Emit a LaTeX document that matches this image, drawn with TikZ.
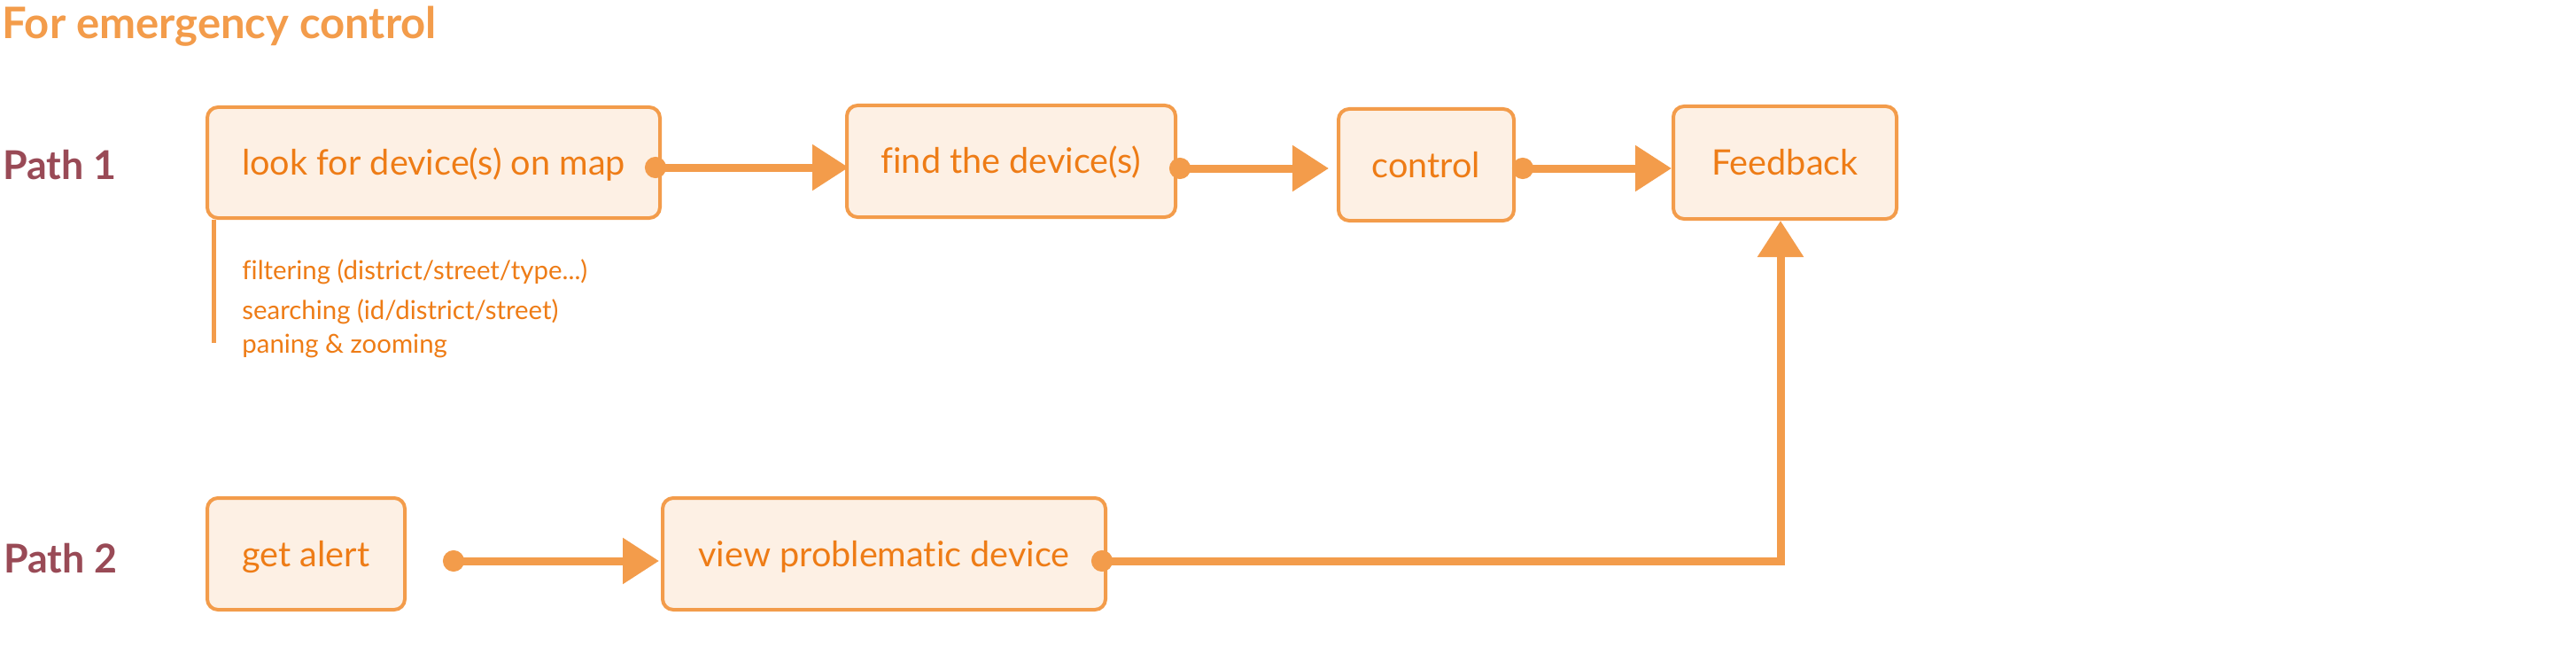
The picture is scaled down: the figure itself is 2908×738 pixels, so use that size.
\documentclass[tikz,border=0pt]{standalone}
\usepackage{fontspec}
\setmainfont{Lato}[Ligatures=NoCommon]
\usetikzlibrary{arrows.meta,calc}
\definecolor{lineor}{RGB}{243,156,75}
\definecolor{textor}{RGB}{238,124,22}
\definecolor{boxfill}{RGB}{253,240,228}
\definecolor{pathcol}{RGB}{153,74,86}
\tikzset{
  box/.style={draw=lineor, line width=2pt, fill=boxfill, rounded corners=6pt,
    inner sep=0pt, text=textor, font=\fontsize{19.8}{23}\selectfont,
    text height=14pt, text depth=0pt},
  conn/.style={draw=lineor, line width=4.5pt, line join=miter,
    {Circle[length=12pt]}-{Triangle[length=20.5pt,width=25pt]}},
  subline/.style={draw=lineor, line width=2.5pt},
  subtext/.style={anchor=base west, inner sep=0pt, text=textor, font=\fontsize{14.7}{17}\selectfont},
  pathlabel/.style={anchor=base west, inner sep=0pt, text=pathcol, font=\bfseries\fontsize{22.4}{26}\selectfont},
  titletext/.style={anchor=base west, inner sep=0pt, text=lineor, font=\bfseries\fontsize{24.5}{28}\selectfont}
}
\begin{document}
\begin{tikzpicture}[x=0.5pt,y=-0.5pt]
\useasboundingbox (0,0) rectangle (2908,738);
\fill[white] (0,0) rectangle (2908,738);

\node[titletext] (title) at (2,44) {For emergency control};
\node[pathlabel] (p1) at (3,202) {Path 1};
\node[pathlabel] (p2) at (4,646) {Path 2};

\node[box, minimum width=255.5pt, minimum height=62.5pt] (b1) at (489.5,183.5) {look for device(s) on map};
\node[box, minimum width=185.5pt, minimum height=63pt] (b2) at (1141.5,182) {find the device(s)};
\node[box, minimum width=99pt, minimum height=63pt] (b3) at (1610,186) {control};
\node[box, minimum width=126pt, minimum height=63.5pt] (b4) at (2015,183.5) {Feedback};
\node[box, minimum width=111.5pt, minimum height=63pt] (b5) at (345.5,625) {get alert};
\node[box, minimum width=250pt, minimum height=63pt] (b6) at (998,625) {view problematic device};

\draw[subline] ([shift={(9,0)}]b1.south west) -- ([shift={(9,139)}]b1.south west);
\node[subtext] (s1) at (273,315) {filtering (district/street/type...)};
\node[subtext] (s2) at (273,360) {searching (id/district/street)};
\node[subtext] (s3) at (273,398) {paning \& zooming};

\draw[conn] ([shift={(-19,5.5)}]b1.east) -- ([shift={(4,7)}]b2.west);
\draw[conn] ([shift={(-9,8)}]b2.east) -- ([shift={(-9,4)}]b3.west);
\draw[conn] ([shift={(-4,4)}]b3.east) -- ([shift={(0,6.5)}]b4.west);
\draw[conn] ([shift={(41,8)}]b5.east) -- ([shift={(-2,8)}]b6.west);
\draw[conn] ([shift={(-18,8)}]b6.east) -| ([xshift=-2.5pt]b4.south);
\end{tikzpicture}
\end{document}
